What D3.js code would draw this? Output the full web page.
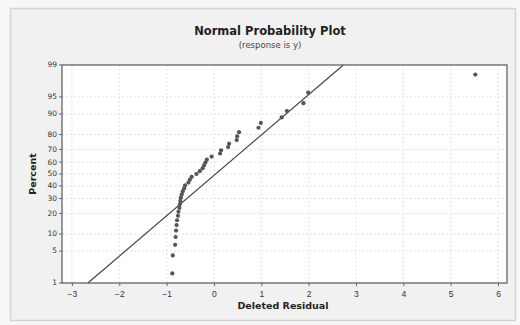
<!DOCTYPE html>
<html><head><meta charset="utf-8">
<script src="https://cdn.jsdelivr.net/npm/d3@7"></script>
<style>
html,body{margin:0;padding:0;background:#f7f7f7;}
svg{display:block;font-family:"DejaVu Sans",Verdana,sans-serif;}
</style></head>
<body>
<svg id="chart" width="520" height="325"></svg>
<script>
// Deleted residuals (sorted)
const residuals = [-0.88,-0.87,-0.82,-0.81,-0.80,-0.79,-0.78,-0.76,-0.75,-0.73,
  -0.72,-0.71,-0.70,-0.68,-0.66,-0.63,-0.61,-0.54,-0.51,-0.47,
  -0.37,-0.30,-0.24,-0.21,-0.18,-0.15,-0.05,0.13,0.15,0.30,
  0.32,0.48,0.49,0.53,0.94,0.99,1.43,1.54,1.89,1.99,5.52];
// fitted normal line (mean, sd)
const fitLine = [0.035, 1.16];
const xTicks = [-3,-2,-1,0,1,2,3,4,5,6];
const yTicks = [1,5,10,20,30,40,50,60,70,80,90,95,99];
const title = "Normal Probability Plot";
const subtitle = "(response is y)";
const xLabel = "Deleted Residual";
const yLabel = "Percent";

const svg = d3.select("#chart");
const W = 520, H = 325;
const plot = {left:62, right:507, top:65, bottom:283};

// inverse normal CDF (Acklam)
function qnorm(p){
  const a=[-3.969683028665376e+01,2.209460984245205e+02,-2.759285104469687e+02,1.383577518672690e+02,-3.066479806614716e+01,2.506628277459239e+00];
  const b=[-5.447609879822406e+01,1.615858368580409e+02,-1.556989798598866e+02,6.680131188771972e+01,-1.328068155288572e+01];
  const c=[-7.784894002430293e-03,-3.223964580411365e-01,-2.400758277161838e+00,-2.549732539343734e+00,4.374664141464968e+00,2.938163982698783e+00];
  const d=[7.784695709041462e-03,3.224671290700398e-01,2.445134137142996e+00,3.754408661907416e+00];
  const pl=0.02425, ph=1-pl; let q,r;
  if(p<pl){q=Math.sqrt(-2*Math.log(p));return (((((c[0]*q+c[1])*q+c[2])*q+c[3])*q+c[4])*q+c[5])/((((d[0]*q+d[1])*q+d[2])*q+d[3])*q+1);}
  if(p>ph){q=Math.sqrt(-2*Math.log(1-p));return -(((((c[0]*q+c[1])*q+c[2])*q+c[3])*q+c[4])*q+c[5])/((((d[0]*q+d[1])*q+d[2])*q+d[3])*q+1);}
  q=p-0.5;r=q*q;return (((((a[0]*r+a[1])*r+a[2])*r+a[3])*r+a[4])*r+a[5])*q/(((((b[0]*r+b[1])*r+b[2])*r+b[3])*r+b[4])*r+1);
}

// outer panel
svg.append("rect").attr("x",0).attr("y",0).attr("width",W).attr("height",H).attr("fill","#f7f7f7");
svg.append("rect").attr("x",10.5).attr("y",8.5).attr("width",505).attr("height",312)
  .attr("fill","#f1f1f1").attr("stroke","#d4d4d4").attr("stroke-width",1.5);

const x = d3.scaleLinear().domain([-3.21, 6.19]).range([plot.left, plot.right]);
const zMax = qnorm(0.99);
const y = d3.scaleLinear().domain([-zMax, zMax]).range([plot.bottom, plot.top]);
const yp = p => y(qnorm(p/100));

svg.append("rect").attr("x",plot.left).attr("y",plot.top)
  .attr("width",plot.right-plot.left).attr("height",plot.bottom-plot.top).attr("fill","#ffffff");

// grid
const g = svg.append("g");
g.selectAll("line.gx").data(xTicks).join("line")
  .attr("x1",d=>x(d)).attr("x2",d=>x(d)).attr("y1",plot.top).attr("y2",plot.bottom)
  .attr("stroke","#e2e2e2").attr("stroke-width",1).attr("stroke-dasharray","2,2");
g.selectAll("line.gy").data(yTicks).join("line")
  .attr("x1",plot.left).attr("x2",plot.right).attr("y1",d=>yp(d)).attr("y2",d=>yp(d))
  .attr("stroke","#e2e2e2").attr("stroke-width",1).attr("stroke-dasharray","2,2");

// fitted line
const [mu, sd] = fitLine;
const lineEnds = [1, 99].map(p => ({r: mu + qnorm(p/100)*sd, p}));
svg.append("line")
  .attr("x1",x(lineEnds[0].r)).attr("y1",yp(lineEnds[0].p))
  .attr("x2",x(lineEnds[1].r)).attr("y2",yp(lineEnds[1].p))
  .attr("stroke","#444").attr("stroke-width",1.2);

// points
const n = residuals.length;
svg.append("g").selectAll("circle").data(residuals).join("circle")
  .attr("cx",d=>x(d)).attr("cy",(d,i)=>y(qnorm((i+1-0.3)/(n+0.4))))
  .attr("r",2.1).attr("fill","#555");

// frame
svg.append("rect").attr("x",plot.left).attr("y",plot.top)
  .attr("width",plot.right-plot.left).attr("height",plot.bottom-plot.top)
  .attr("fill","none").attr("stroke","#666").attr("stroke-width",1.3);

// axes
const xAxis = d3.axisBottom(x).tickValues(xTicks).tickSize(3).tickFormat(d3.format("d"));
const gx = svg.append("g").attr("transform",`translate(0,${plot.bottom})`).call(xAxis);
gx.select(".domain").remove();
gx.selectAll("line").attr("stroke","#666");
gx.selectAll("text").attr("font-size",8.5).attr("fill","#333").attr("dy","0.9em");

const gy = svg.append("g");
gy.selectAll("line").data(yTicks).join("line")
  .attr("x1",plot.left-3).attr("x2",plot.left).attr("y1",d=>yp(d)).attr("y2",d=>yp(d)).attr("stroke","#666");
gy.selectAll("text").data(yTicks).join("text")
  .attr("x",plot.left-5).attr("y",d=>yp(d)).attr("dy","0.32em").attr("text-anchor","end")
  .attr("font-size",7.5).attr("fill","#333").text(d=>d);

// titles
svg.append("text").attr("x",270).attr("y",35).attr("text-anchor","middle")
  .attr("font-size",11.5).attr("font-weight","bold").attr("fill","#222").text(title);
svg.append("text").attr("x",270).attr("y",48).attr("text-anchor","middle")
  .attr("font-size",8.5).attr("fill","#444").text(subtitle);
svg.append("text").attr("x",283).attr("y",309).attr("text-anchor","middle")
  .attr("font-size",9.5).attr("font-weight","bold").attr("fill","#222").text(xLabel);
svg.append("text").attr("transform","translate(36,174) rotate(-90)").attr("text-anchor","middle")
  .attr("font-size",9.5).attr("font-weight","bold").attr("fill","#222").text(yLabel);
</script>
</body></html>
